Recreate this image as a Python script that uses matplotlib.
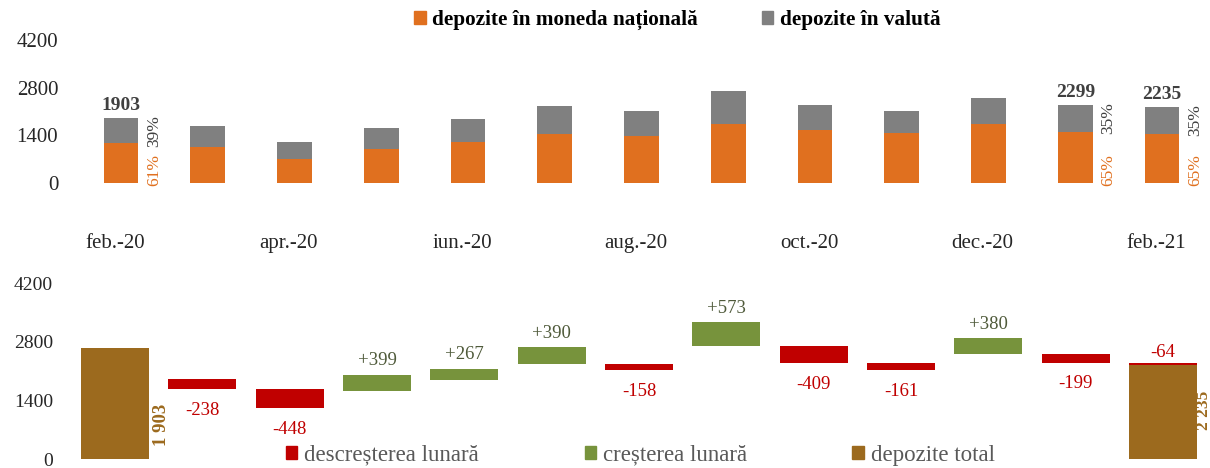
import matplotlib
matplotlib.use('Agg')
import matplotlib.pyplot as plt
import matplotlib.transforms as mtransforms
from matplotlib.patches import Patch

# ── data ──
months = ['feb.-20', 'mar.-20', 'apr.-20', 'mai-20', 'iun.-20', 'iul.-20', 'aug.-20',
          'sep.-20', 'oct.-20', 'nov.-20', 'dec.-20', 'ian.-21', 'feb.-21']
national = [1161, 1068, 719, 989, 1202, 1426, 1388, 1737, 1563, 1475, 1737, 1494, 1453]
foreign = [742, 597, 498, 627, 681, 847, 727, 951, 716, 643, 761, 805, 782]
total_labels = ['1903', '', '', '', '', '', '', '', '', '', '', '2299', '2235']
share_national = ['61%', '', '', '', '', '', '', '', '', '', '', '65%', '65%']
share_foreign = ['39%', '', '', '', '', '', '', '', '', '', '', '35%', '35%']

start_total = 1903
monthly_change = [-238, -448, 399, 267, 390, -158, 573, -409, -161, 380, -199, -64]
change_pos = [1, 2, 3, 4, 5, 6, 7, 8, 9, 10, 11, 12]
total_bar_heights = [2650, 2235]   # first column is drawn taller than its value in the source
total_bar_labels = ['1 903', '2 235']

ORANGE = '#E0701F'
GRAY = '#808080'
RED = '#C00000'
GREEN = '#77933C'
BROWN = '#9C6A1E'

plt.rcParams['font.family'] = ['Liberation Serif', 'DejaVu Serif']

fig = plt.figure(figsize=(12.1, 4.68), dpi=100)

# ── top: stacked deposits ──
ax1 = fig.add_axes([77.6 / 1210, 1 - 183 / 468, 1127.8 / 1210, 143 / 468])
x = list(range(len(months)))
ax1.bar(x, national, width=0.4, color=ORANGE)
ax1.bar(x, foreign, bottom=national, width=0.4, color=GRAY)
ax1.set_xlim(-0.5, 12.5)
ax1.set_ylim(0, 4200)
ax1.set_yticks([0, 1400, 2800, 4200])
ax1.set_xticks(x[::2])
ax1.set_xticklabels(months[::2])
ax1.tick_params(axis='y', length=0, pad=14, labelsize=15, labelcolor='#262626')
ax1.tick_params(axis='x', length=0, pad=37, labelsize=15, labelcolor='#262626')
shift = mtransforms.ScaledTranslation(-6 / 100, 0, fig.dpi_scale_trans)
for lbl in ax1.get_xticklabels():
    lbl.set_transform(lbl.get_transform() + shift)
for s in ax1.spines.values():
    s.set_visible(False)

for i in x:
    top = national[i] + foreign[i]
    if total_labels[i]:
        ax1.annotate(total_labels[i], (i, top), xytext=(0, 3), textcoords='offset points',
                     ha='center', va='bottom', fontsize=14, fontweight='bold', color='#404040')
    if share_national[i]:
        ax1.text(i + 0.38, -80, share_national[i], rotation=90, ha='center', va='bottom',
                 fontsize=12.5, color=ORANGE)
        ax1.text(i + 0.38, national[i] + foreign[i] / 2, share_foreign[i], rotation=90,
                 ha='center', va='center', fontsize=12.5, color='#404040')

fig.legend(handles=[Patch(color=ORANGE, label='depozite în moneda națională'),
                    Patch(color=GRAY, label='depozite în valută')],
           loc='center left', bbox_to_anchor=(414 / 1210, 1 - 20 / 468), ncol=2, frameon=False,
           borderpad=0, borderaxespad=0, handlelength=0.55, handleheight=0.55, handletextpad=0.3,
           columnspacing=3.0, prop={'size': 15.3, 'weight': 'bold'})

# ── bottom: waterfall of monthly changes ──
# each change column sits on the month-end level, as in the source chart
ax2 = fig.add_axes([71.3 / 1210, 1 - 459 / 468, 1135.4 / 1210, 176 / 468])
ax2.bar([0, 12], total_bar_heights, width=0.78, color=BROWN, zorder=2)
level = start_total
for d, p in zip(monthly_change, change_pos):
    new = level + d
    lo, hi = new, new + abs(d)
    ax2.bar(p, hi - lo, bottom=lo, width=0.78, color=GREEN if d > 0 else RED, zorder=3)
    txt = f'{d:+d}'
    if p == 12:
        ax2.annotate(txt, (p, hi), xytext=(0, 1), textcoords='offset points',
                     ha='center', va='bottom', fontsize=13.5, color=RED)
    elif d > 0:
        ax2.annotate(txt, (p, hi), xytext=(0, 4), textcoords='offset points',
                     ha='center', va='bottom', fontsize=13.5, color='#4F5A3A')
    else:
        ax2.annotate(txt, (p, lo), xytext=(0, -9), textcoords='offset points',
                     ha='center', va='top', fontsize=13.5, color=RED)
    level = new

ax2.text(0.53, 810, total_bar_labels[0], rotation=90, ha='center', va='center',
         fontsize=13.5, fontweight='bold', color=BROWN)
ax2.text(12.47, 1150, total_bar_labels[1], rotation=90, ha='center', va='center',
         fontsize=12.5, fontweight='bold', color=BROWN, clip_on=False)

ax2.set_xlim(-0.5, 12.5)
ax2.set_ylim(0, 4200)
ax2.set_yticks([0, 1400, 2800, 4200])
ax2.set_xticks([])
ax2.tick_params(axis='y', length=0, pad=13, labelsize=14, labelcolor='#262626')
for s in ax2.spines.values():
    s.set_visible(False)

fig.legend(handles=[Patch(color=RED, label='descreșterea lunară'),
                    Patch(color=GREEN, label='creșterea lunară'),
                    Patch(color=BROWN, label='depozite total')],
           loc='center left', bbox_to_anchor=(286 / 1210, 1 - 455 / 468), ncol=3, frameon=False,
           borderpad=0, borderaxespad=0, handlelength=0.5, handleheight=0.5, handletextpad=0.3,
           columnspacing=4.6, prop={'size': 16.5}, labelcolor='#595959')

plt.savefig('out.png', dpi=100)
